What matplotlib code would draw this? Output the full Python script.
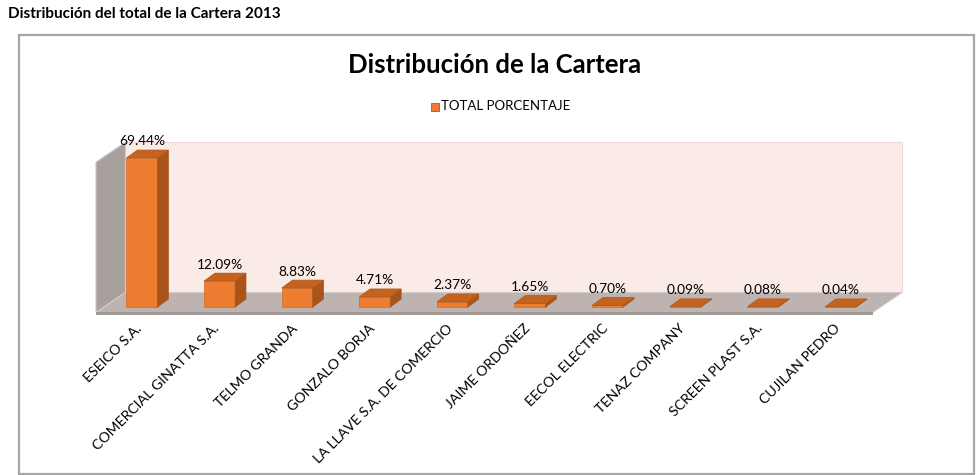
import matplotlib.pyplot as plt
from matplotlib.patches import Polygon, Rectangle

clientes = ['ESEICO S.A.', 'COMERCIAL GINATTA S.A.', 'TELMO GRANDA', 'GONZALO BORJA',
            'LA LLAVE S.A. DE COMERCIO', 'JAIME ORDOÑEZ', 'EECOL ELECTRIC',
            'TENAZ COMPANY', 'SCREEN PLAST S.A.', 'CUJILAN PEDRO']
porcentajes = [69.44, 12.09, 8.83, 4.71, 2.37, 1.65, 0.70, 0.09, 0.08, 0.04]
etiquetas = ['69.44%', '12.09%', '8.83%', '4.71%', '2.37%', '1.65%', '0.70%', '0.09%', '0.08%', '0.04%']
serie = 'TOTAL PORCENTAJE'

FRENTE = '#ED7D31'
LADO = '#A9541B'
TAPA = '#C4621F'

plt.rcParams['font.family'] = ['Lato', 'DejaVu Sans']

fig = plt.figure(figsize=(9.76, 4.75), dpi=100)

# titulo de la hoja y marco del grafico
fig.text(8 / 976, 1 - 14 / 475, 'Distribución del total de la Cartera 2013',
         fontsize=11, fontweight='bold', va='center', ha='left')
fig.add_artist(Rectangle((19 / 976, 1 - 474 / 475), 955 / 976, 439 / 475,
                         transform=fig.transFigure, fill=False,
                         edgecolor='#A6A6A6', linewidth=1.6))
fig.text(495 / 976, 1 - 65 / 475, 'Distribución de la Cartera',
         fontsize=18.5, fontweight='bold', ha='center', va='center')

# escala: 77.6 px por categoria, 2.146 px por punto porcentual, base en y=307 px
PX_X, PX_Y, X0, Y0 = 77.6, 2.146, 142, 307
ax = fig.add_axes([0, 0, 1, 1])
ax.set_xlim(-X0 / PX_X, (976 - X0) / PX_X)
ax.set_ylim(-(475 - Y0) / PX_Y, Y0 / PX_Y)
ax.axis('off')

# profundidad de la caja y de las barras
prof_x, prof_y = 0.38, 9.3
izq, der, piso, techo = -0.593, 9.42, -2.5, 67.5
bx, by = 0.14, 3.7
ancho = 0.40

# pared del fondo
ax.add_patch(Polygon([(izq + prof_x, piso + prof_y), (der + prof_x, piso + prof_y),
                      (der + prof_x, techo + prof_y), (izq + prof_x, techo + prof_y)],
                     closed=True, facecolor='#FBEBE7', edgecolor='#EED9D4', linewidth=0.8))
# pared lateral
ax.add_patch(Polygon([(izq, piso), (izq + prof_x, piso + prof_y),
                      (izq + prof_x, techo + prof_y), (izq, techo)],
                     closed=True, facecolor='#A8A09C', edgecolor='#D0C8C4', linewidth=0.8))
# piso
ax.add_patch(Polygon([(izq, piso), (der, piso), (der + prof_x, piso + prof_y),
                      (izq + prof_x, piso + prof_y)],
                     closed=True, facecolor='#BDB4B1', edgecolor='#D8D0CD', linewidth=0.6))
ax.add_patch(Polygon([(izq, piso), (der, piso), (der, piso - 1.0), (izq, piso - 1.0)],
                     closed=True, facecolor='#9E9793', edgecolor='none'))

for i, (v, et) in enumerate(zip(porcentajes, etiquetas)):
    x0, x1 = i - ancho / 2, i + ancho / 2
    # cara frontal
    ax.add_patch(Polygon([(x0, 0), (x1, 0), (x1, v), (x0, v)], closed=True,
                         facecolor=FRENTE, edgecolor='#D46A22', linewidth=0.5, zorder=3))
    # cara lateral
    ax.add_patch(Polygon([(x1, 0), (x1 + bx, by), (x1 + bx, v + by), (x1, v)], closed=True,
                         facecolor=LADO, edgecolor=LADO, linewidth=0.5, zorder=3))
    # tapa
    ax.add_patch(Polygon([(x0, v), (x1, v), (x1 + bx, v + by), (x0 + bx, v + by)], closed=True,
                         facecolor=TAPA, edgecolor='#B0561A', linewidth=0.5, zorder=3))
    ax.text(i, v + by + 4.0, et, ha='center', va='center', fontsize=9.9, zorder=4)
    ax.text(i - 0.08, -7.0, clientes[i], rotation=45, rotation_mode='anchor',
            ha='right', va='top', fontsize=10.2)

# leyenda
ax.add_patch(Rectangle(((431 - X0) / PX_X, (Y0 - 111) / PX_Y), 8 / PX_X, 8 / PX_Y,
                       facecolor=FRENTE, edgecolor='#B0561A', linewidth=0.6))
ax.text((441 - X0) / PX_X, (Y0 - 106) / PX_Y, serie, ha='left', va='center', fontsize=9.5)

fig.savefig('out.png', dpi=100)
